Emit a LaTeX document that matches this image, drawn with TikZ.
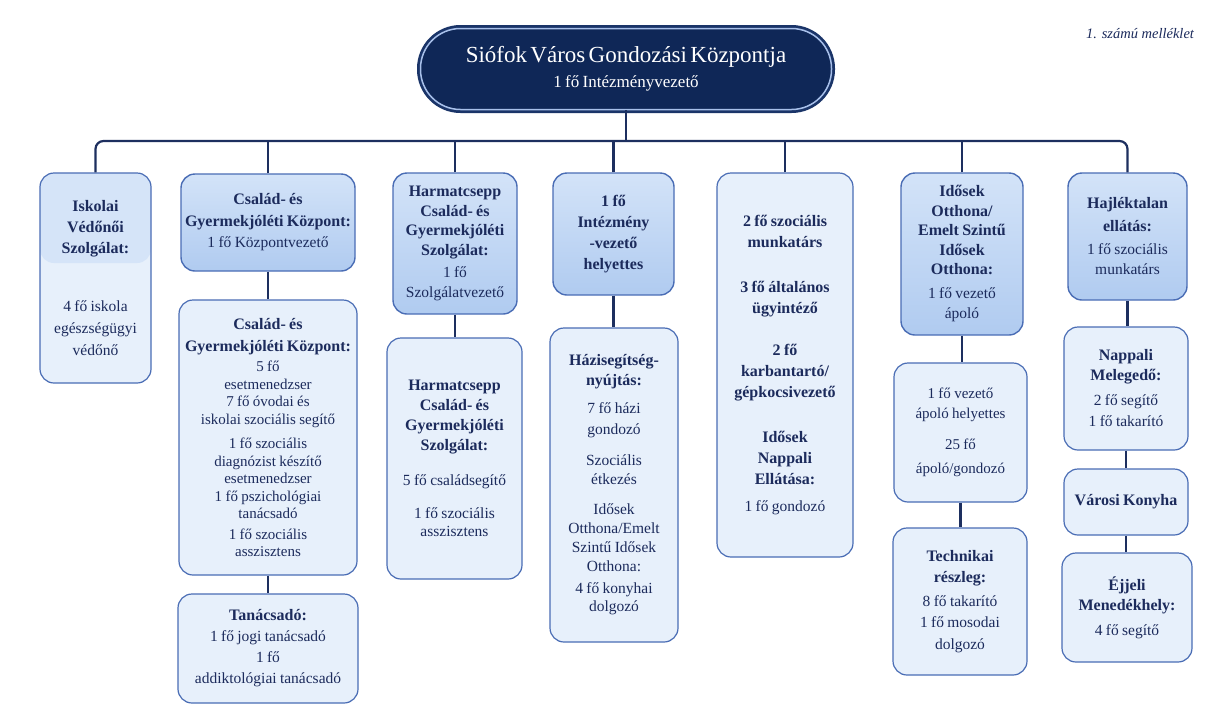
\documentclass[tikz,border=0pt]{standalone}
\usepackage{fontspec}
\setmainfont{Liberation Serif}
\definecolor{navy}{HTML}{0F2757}
\definecolor{navyring}{HTML}{1A3468}
\definecolor{ringlight}{HTML}{A8C0EA}
\definecolor{bord}{HTML}{4A6DB5}
\definecolor{hdtop}{HTML}{D3E3F8}
\definecolor{hdbot}{HTML}{B0CBF0}
\definecolor{cohd}{HTML}{D5E4F8}
\definecolor{lowfill}{HTML}{E7F0FB}
\definecolor{txt}{HTML}{1C2B5C}
\definecolor{connc}{HTML}{1D2F5F}
\newcommand{\hb}[2][21]{{\fontsize{16}{#1}\selectfont\bfseries #2\par}}
\newcommand{\rb}[2][21]{{\fontsize{15.5}{#1}\selectfont #2\par}}
\newcommand{\smb}[2][17.5]{{\fontsize{15}{#1}\selectfont #2\par}}
\newcommand{\mybox}[7]{%
  \pgfmathsetmacro{\myCX}{(#3+#5)/2}%
  \pgfmathsetmacro{\myCY}{(#4+#6)/2}%
  \pgfmathsetmacro{\myBW}{#5-#3}%
  \pgfmathsetmacro{\myBH}{#6-#4}%
  \pgfmathsetmacro{\myTW}{#5-#3-4}%
  \node[#1, minimum width=\myBW pt, minimum height=\myBH pt, text width=\myTW pt] (#2) at (\myCX,\myCY) {#7};}
\tikzset{
  topbox/.style={rectangle, rounded corners=40pt, fill=navy, draw=ringlight, line width=1.5pt,
    preaction={draw=navyring, line width=7pt}, text=white, align=center, inner sep=0pt,
    minimum width=411pt, minimum height=81pt, text width=400pt},
  hbox/.style={rectangle, rounded corners=14pt, draw=bord, line width=1.4pt, top color=hdtop,
    bottom color=hdbot, text=txt, align=center, inner sep=0pt},
  lbox/.style={rectangle, rounded corners=14pt, draw=bord, line width=1.2pt, fill=lowfill,
    text=txt, align=center, inner sep=0pt},
  cbox/.style={lbox, path picture={\fill[cohd] (path picture bounding box.north west) rectangle ([yshift=-90pt]path picture bounding box.north east);}},
  conn/.style={draw=connc, line width=2.2pt},
  notetext/.style={text=txt, font=\fontsize{14.5}{17}\selectfont\itshape, inner sep=0pt}
}
\begin{document}
\begin{tikzpicture}[x=1pt,y=-1pt]
\useasboundingbox (0,0) rectangle (1216,718);
\fill[white] (0,0) rectangle (1216,718);

\node[notetext] (note) at (1140,34) {1. számú melléklet};

\node[topbox] (top) at (626,69) {{\fontsize{23}{28}\selectfont Siófok Város Gondozási Központja\par}{\fontsize{17}{25}\selectfont 1 fő Intézményvezető\par}};

% column 1
\mybox{cbox}{c1}{40}{173}{151}{383}{\hb{Iskolai\\Védőnői\\Szolgálat:}\vspace{36pt}\rb[22]{4 fő iskola\\egészségügyi\\védőnő}}

% column 2
\mybox{hbox}{c2a}{181}{174}{355}{271}{\hb[22]{Család- és\\Gyermekjóléti Központ:}\rb{1 fő Központvezető}}
\mybox{lbox}{c2b}{179}{300}{357}{575}{\hb[22]{Család- és\\Gyermekjóléti Központ:}\vspace{3pt}\smb{5 fő\\esetmenedzser\\7 fő óvodai és\\iskolai szociális segítő}\vspace{7pt}\smb{1 fő szociális\\diagnózist készítő\\esetmenedzser}\smb{1 fő pszichológiai\\tanácsadó}\vspace{3pt}\smb{1 fő szociális\\asszisztens}}
\mybox{lbox}{c2c}{178}{594}{358}{703}{\hb{Tanácsadó:}\rb{1 fő jogi tanácsadó\\1 fő\\addiktológiai tanácsadó}}

% column 3
\mybox{hbox}{c3a}{393}{173}{517}{314}{\hb[19.5]{Harmatcsepp\\Család- és\\Gyermekjóléti\\Szolgálat:}\vspace{2pt}\rb[20]{1 fő\\Szolgálatvezető}}
\mybox{lbox}{c3b}{387}{338}{522}{579}{\hb[20]{Harmatcsepp\\Család- és\\Gyermekjóléti\\Szolgálat:}\vspace{14pt}\rb{5 fő családsegítő}\vspace{15pt}\rb[18]{1 fő szociális\\asszisztens}}

% column 4
\mybox{hbox}{c4a}{553}{173}{674}{295}{\hb{1 fő\\Intézmény\\-vezető\\helyettes}}
\mybox{lbox}{c4b}{550}{328}{678}{642}{\hb[20]{Házisegítség-\\nyújtás:}\vspace{7pt}\rb{7 fő házi\\gondozó}\vspace{12pt}\rb[19]{Szociális\\étkezés}\vspace{11pt}\rb[19]{Idősek\\Otthona/Emelt\\Szintű Idősek\\Otthona:}\vspace{4pt}\rb[18]{4 fő konyhai\\dolgozó}}

% column 5
\mybox{lbox}{c5}{717}{173}{853}{557}{\hb{2 fő szociális\\munkatárs}\vspace{24pt}\hb{3 fő általános\\ügyintéző}\vspace{21pt}\hb{2 fő\\karbantartó/\\gépkocsivezető}\vspace{24pt}\hb{Idősek\\Nappali\\Ellátása:}\vspace{6pt}\rb{1 fő gondozó}}

% column 6
\mybox{hbox}{c6a}{901}{173}{1023}{335}{\hb[19.5]{Idősek\\Otthona/\\Emelt Szintű\\Idősek\\Otthona:}\vspace{4pt}\rb[20]{1 fő vezető\\ápoló}}
\mybox{lbox}{c6b}{894}{363}{1027}{502}{\smb[20]{1 fő vezető\\ápoló helyettes}\vspace{7pt}\smb[24]{25 fő\\ápoló/gondozó}}
\mybox{lbox}{c6c}{893}{528}{1027}{675}{\hb{Technikai\\részleg:}\vspace{2pt}\rb[21.5]{8 fő takarító\\1 fő mosodai\\dolgozó}}

% column 7
\mybox{hbox}{c7a}{1068}{173}{1187}{300}{\hb[23]{Hajléktalan\\ellátás:}\vspace{3pt}\rb[20]{1 fő szociális\\munkatárs}}
\mybox{lbox}{c7b}{1064}{327}{1188}{450}{\hb[20]{Nappali\\Melegedő:}\vspace{4pt}\rb{2 fő segítő\\1 fő takarító}}
\mybox{lbox}{c7c}{1064}{469}{1188}{535}{\hb{Városi Konyha}}
\mybox{lbox}{c7d}{1062}{553}{1192}{662}{\hb[20]{Éjjeli\\Menedékhely:}\vspace{4pt}\rb{4 fő segítő}}

% connectors
\coordinate (bus) at (626,141);
\draw[conn] (top.south) -- (bus);
\draw[conn, rounded corners=8pt] (c1.north) |- (bus) -| (c7a.north);
\foreach \n in {c2a,c3a,c4a,c5,c6a} {\draw[conn] (\n.north) -- (\n.north |- bus);}
\draw[conn] (c2a.south) -- (c2a.south |- c2b.north);
\draw[conn] (c2b.south) -- (c2b.south |- c2c.north);
\draw[conn] (c3a.south) -- (c3a.south |- c3b.north);
\draw[conn] (c4a.south) -- (c4a.south |- c4b.north);
\draw[conn] (c6a.south) -- (c6a.south |- c6b.north);
\draw[conn] (c6b.south) -- (c6b.south |- c6c.north);
\draw[conn] (c7a.south) -- (c7a.south |- c7b.north);
\draw[conn] (c7b.south) -- (c7b.south |- c7c.north);
\draw[conn] (c7c.south) -- (c7c.south |- c7d.north);
\end{tikzpicture}
\end{document}
